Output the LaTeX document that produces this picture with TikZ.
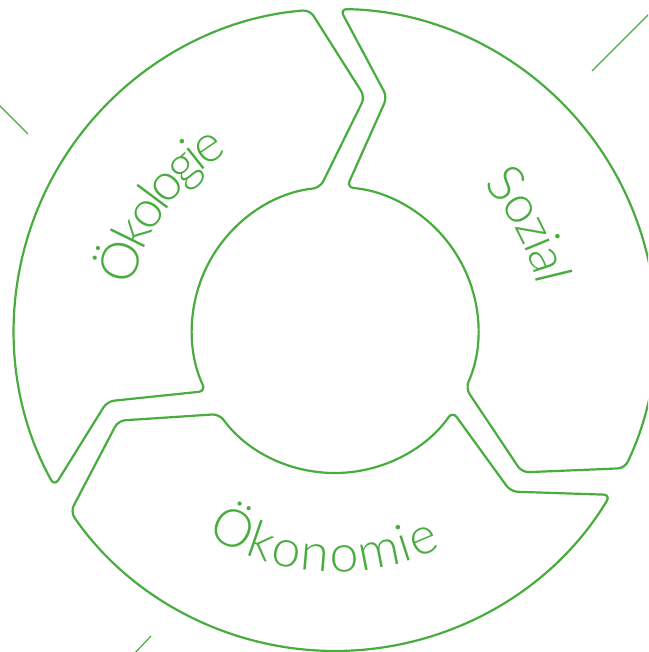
\documentclass[tikz,border=0pt]{standalone}
\usepackage{fontspec}
\setmainfont{Lato}[UprightFont={* Light}]
\usetikzlibrary{decorations.text}
\definecolor{ringgreen}{RGB}{72,172,62}

\begin{document}
\begin{tikzpicture}[x=1pt,y=1pt,
    segment/.style={draw=ringgreen, line width=2.2pt, rounded corners=7pt},
    markline/.style={draw=ringgreen, line width=1.2pt},
    arctext/.style={decorate, decoration={text along path, text align=fit to path,
        text color=ringgreen, text={|\fontsize{52}{60}\selectfont|#1}}},
    tightarctext/.style 2 args={decorate, decoration={text along path, text align=center,
        text color=ringgreen, text={|\fontsize{52}{60}\selectfont\kern#2|#1}}}
    ]

\useasboundingbox (-335,-322) rectangle (313,330);
\clip (-335,-322) rectangle (313,330);

% the three parts of the ring
\foreach \rot in {0,-120,-240}
    \draw[segment, rotate=\rot] (209.1:321) arc[start angle=209.1, end angle=94.5, radius=321]
        -- (82.7:235) -- (96:143) arc[start angle=96, end angle=205.3, radius=143]
        -- (197.4:238.7) -- cycle;

% labels along the ring
\path[tightarctext={Ökologie}{-4.5pt}] (194:207) arc[start angle=194, end angle=94, radius=207];
\path[tightarctext={Sozial}{-2.5pt}] (78:207) arc[start angle=78, end angle=-22, radius=207];
\path[arctext=Ökonomie] (238:242) arc[start angle=238, end angle=296, radius=242];

% short strokes at the border
\draw[markline] (257,259) -- (322,324);
\draw[markline] (-342,231) -- (-307,196);
\draw[markline] (-202,-325) -- (-184,-306);

\end{tikzpicture}
\end{document}
